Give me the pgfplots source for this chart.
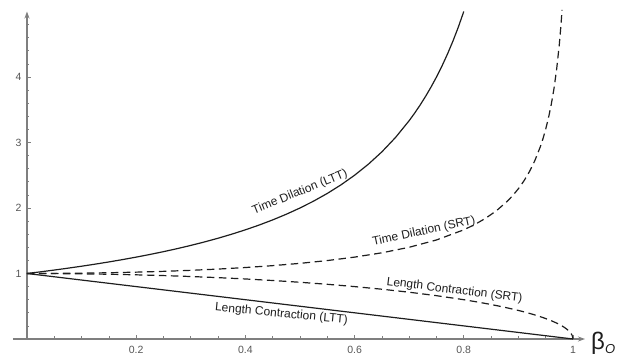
\documentclass[border=0pt]{standalone}
\usepackage{pgfplots}
\pgfplotsset{compat=1.18}
\usetikzlibrary{arrows.meta}
\usepackage{fontspec}
\setmainfont{Liberation Sans}
\definecolor{axgray}{HTML}{7F7F7F}
\definecolor{txtgray}{HTML}{555555}
\definecolor{curvecol}{HTML}{1E1E1E}
\begin{document}
\begin{tikzpicture}
\useasboundingbox (-13pt,-19pt) rectangle (606pt,339pt);
\begin{axis}[
  at={(0,0)}, anchor=south west,
  scale only axis, width=572pt, height=327.5pt,
  xmin=-0.0256, xmax=1.022, ymin=0, ymax=5,
  axis lines=middle,
  axis line style={axgray, line width=1.1pt, -{Stealth[length=7pt,width=5pt]}},
  xtick={0.2,0.4,0.6,0.8,1}, xticklabels={0.2,0.4,0.6,0.8,1},
  minor xtick={0.05,0.1,0.15,0.25,0.3,0.35,0.45,0.5,0.55,0.65,0.7,0.75,0.85,0.9,0.95},
  ytick={1,2,3,4}, yticklabels={1,2,3,4},
  minor ytick={0.2,0.4,0.6,0.8,1.2,1.4,1.6,1.8,2.2,2.4,2.6,2.8,3.2,3.4,3.6,3.8,4.2,4.4,4.6,4.8},
  tick align=inside,
  major tick length=4pt, minor tick length=2.5pt,
  tick style={axgray, line width=0.7pt},
  ticklabel style={txtgray, font=\fontsize{10.5}{12}\selectfont},
  xticklabel style={yshift=-4pt},
  yticklabel style={xshift=-2pt},
  /pgf/number format/assume math mode=true,
  clip=false,
]
% Time Dilation (LTT)
\addplot[curvecol, line width=1.2pt] coordinates {
(0,1) (0.025,1.0256) (0.05,1.0526) (0.075,1.0811) (0.1,1.1111) (0.125,1.1429) (0.15,1.1765)
(0.175,1.2121) (0.2,1.25) (0.225,1.2903) (0.25,1.3333) (0.275,1.3793) (0.3,1.4286)
(0.325,1.4815) (0.35,1.5385) (0.375,1.6) (0.4,1.6667) (0.425,1.7391) (0.45,1.8182)
(0.475,1.9048) (0.5,2) (0.525,2.1053) (0.55,2.2222) (0.575,2.3529) (0.6,2.5)
(0.625,2.6667) (0.65,2.8571) (0.675,3.0769) (0.7,3.3333) (0.71,3.4483) (0.72,3.5714)
(0.73,3.7037) (0.74,3.8462) (0.75,4) (0.76,4.1667) (0.77,4.3478) (0.78,4.5455)
(0.79,4.7619) (0.8,5)};
% Time Dilation (SRT)
\addplot[curvecol, line width=1.2pt, dash pattern=on 7.5pt off 4.5pt] coordinates {
(0,1) (0.05,1.00125) (0.1,1.0050) (0.15,1.01144) (0.2,1.0206) (0.25,1.0328) (0.3,1.0483)
(0.35,1.06752) (0.4,1.0911) (0.45,1.11978) (0.5,1.1547) (0.55,1.1974) (0.6,1.25)
(0.65,1.3159) (0.7,1.4003) (0.75,1.5119) (0.8,1.6667) (0.82,1.7471) (0.84,1.8430)
(0.86,1.9597) (0.88,2.1054) (0.89,2.1932) (0.9,2.2942) (0.91,2.4119) (0.92,2.5516)
(0.93,2.7206) (0.94,2.9310) (0.945,3.0575) (0.95,3.2026) (0.955,3.3715) (0.96,3.5714)
(0.965,3.8132) (0.97,4.1134) (0.975,4.5004) (0.978,4.7938) (0.98,5.0252)};
% Length Contraction (SRT)
\addplot[curvecol, line width=1.2pt, dash pattern=on 7.5pt off 4.5pt] coordinates {
(0,1) (0.05,0.99875) (0.1,0.99499) (0.15,0.98869) (0.2,0.97980) (0.25,0.96825) (0.3,0.95394)
(0.35,0.93675) (0.4,0.91652) (0.45,0.89303) (0.5,0.86603) (0.55,0.83516) (0.6,0.8)
(0.65,0.75993) (0.7,0.71414) (0.75,0.66144) (0.8,0.6) (0.825,0.56513) (0.85,0.52678)
(0.875,0.48412) (0.9,0.43589) (0.91,0.41461) (0.92,0.39192) (0.93,0.36756) (0.94,0.34117)
(0.95,0.31225) (0.96,0.28) (0.97,0.24310) (0.98,0.19900) (0.985,0.17255) (0.99,0.14107)
(0.995,0.09987) (0.9975,0.070666) (0.999,0.04471) (1,0)};
% Length Contraction (LTT)
\addplot[curvecol, line width=1.2pt] coordinates {(0,1) (1,0)};

\node[rotate=22, font=\fontsize{12}{14}\selectfont, text=curvecol] at (axis cs:0.5,2.24) {Time Dilation (LTT)};
\node[rotate=12, font=\fontsize{12}{14}\selectfont, text=curvecol] at (axis cs:0.727,1.64) {Time Dilation (SRT)};
\node[rotate=-7, font=\fontsize{12}{14}\selectfont, text=curvecol] at (axis cs:0.783,0.74) {Length Contraction (SRT)};
\node[rotate=-5.5, font=\fontsize{12}{14}\selectfont, text=curvecol] at (axis cs:0.466,0.38) {Length Contraction (LTT)};
\node[anchor=west, inner sep=0pt, text=curvecol] at (axis cs:1.033,-0.06) {\fontsize{24}{26}\selectfont β\raisebox{-0.35ex}{\fontsize{13}{14}\selectfont\itshape O}};
\end{axis}
\end{tikzpicture}
\end{document}
